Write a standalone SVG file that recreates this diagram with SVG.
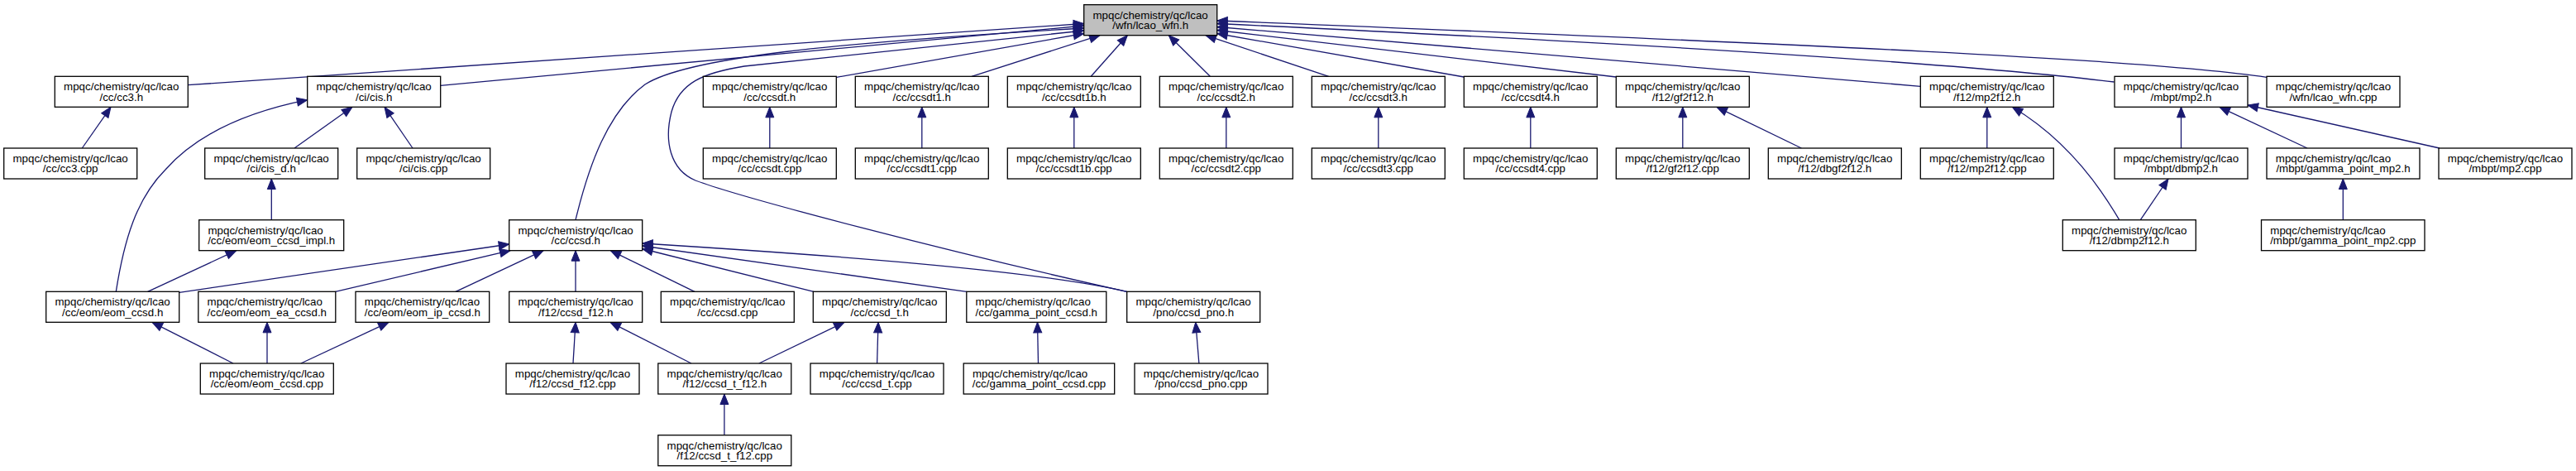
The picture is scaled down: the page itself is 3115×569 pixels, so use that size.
<svg xmlns="http://www.w3.org/2000/svg" width="3115" height="569" viewBox="0 0 3115 569">
<style>
.n rect{fill:#ffffff;stroke:#000000;stroke-width:1.3}
.n.root rect{fill:#bfbfbf}
.n text{font-family:"Liberation Sans",Arial,Helvetica,sans-serif;font-size:13.33px;fill:#000000}
.n text.l2{text-anchor:middle}
#edges path{fill:none;stroke:#191970;stroke-width:1.3;marker-end:url(#ah)}
</style>
<defs>
<marker id="ah" markerUnits="userSpaceOnUse" markerWidth="14" markerHeight="12" refX="12.5" refY="5" orient="auto" viewBox="0 0 14 10" overflow="visible">
<path d="M0,0 L12.5,5 L0,10 z" fill="#191970" stroke="#191970" stroke-width="1"/>
</marker>
</defs>
<rect width="3115" height="569" fill="#ffffff"/>
<g id="edges">
<path d="M227.3,102.7 L1310.7,28.5"/>
<path d="M532.7,103.3 L1310.7,31"/>
<path d="M696,265.7 C712,200 735,135 780,102 C830,70 1000,52 1310.7,34"/>
<path d="M1362.5,352.3 C1150,305 900,240 841,218 C810,205 803,170 812,135 C822,100 850,88 900,80 L1310.7,37"/>
<path d="M1011.7,93.3 L1310.7,40.5"/>
<path d="M1175,92.3 L1330,42.7"/>
<path d="M1319.3,92.3 L1363.3,42.7"/>
<path d="M1463.3,92.3 L1413.3,42.7"/>
<path d="M1606.7,92.3 L1458,42.7"/>
<path d="M1770.3,93 L1471.7,40.5"/>
<path d="M1954.3,93 L1471.7,36.5"/>
<path d="M2322.3,104.3 C2150,88 1900,66 1471.7,32.5"/>
<path d="M2556.5,99 C2400,80 2100,58 1471.7,28.5"/>
<path d="M2741,93.3 C2600,72 2200,54 1471.7,25"/>
<path d="M99.3,179 L134,129.3"/>
<path d="M356,179 L426,129.3"/>
<path d="M499,179 L465,129.3"/>
<path d="M140.3,352.3 C150,290 165,240 200,205 C240,160 300,135 371.7,120.7"/>
<path d="M328.3,265.7 L328.3,216"/>
<path d="M178.6,352.3 L285.7,302.7"/>
<path d="M216.8,353.3 L615.7,295"/>
<path d="M405.6,352.3 L617,302.7"/>
<path d="M551,352.3 L657,302.7"/>
<path d="M696,352.3 L696,302.7"/>
<path d="M840,352.3 L738.3,302.7"/>
<path d="M984,352.3 L776.7,300.5"/>
<path d="M1168.8,352.3 L776.7,297"/>
<path d="M1362.7,352.3 C1250,326 1000,308 776.7,294"/>
<path d="M282,439 L184,389.3"/>
<path d="M323,439 L323,389.3"/>
<path d="M363.8,439 L470,389.3"/>
<path d="M693,439 L696,389.3"/>
<path d="M836,439 L738,389.3"/>
<path d="M917.8,439 L1021,389.3"/>
<path d="M1060.6,439 L1062,389.3"/>
<path d="M1255.5,439 L1254.5,389.3"/>
<path d="M1449.9,439 L1445.8,389.3"/>
<path d="M875.9,525.7 L875.9,476"/>
<path d="M930.8,179 L930.8,129.3"/>
<path d="M1114.8,179 L1114.8,129.3"/>
<path d="M1298.8,179 L1298.8,129.3"/>
<path d="M1482.8,179 L1482.8,129.3"/>
<path d="M1666.8,179 L1666.8,129.3"/>
<path d="M1850.8,179 L1850.8,129.3"/>
<path d="M2034.8,179 L2034.8,129.3"/>
<path d="M2178.4,179 L2076,129.3"/>
<path d="M2402.8,179 L2402.8,129.3"/>
<path d="M2562.7,265.7 Q2510,175 2433.3,129.3"/>
<path d="M2637.5,179 L2637.5,129.3"/>
<path d="M2790,179 L2684,129.3"/>
<path d="M2950,179 L2718,127"/>
<path d="M2588.3,265.7 L2622,216"/>
<path d="M2833.3,265.7 L2833.3,216"/>
</g>
<g id="lcao_wfn_h" class="n root"><rect x="1310.7" y="5.7" width="161" height="37"/><text x="1321.5" y="22.7">mpqc/chemistry/qc/lcao</text><text class="l2" x="1391.2" y="35">/wfn/lcao_wfn.h</text></g>
<g id="cc3_h" class="n"><rect x="66.3" y="92.3" width="161" height="37"/><text x="77.1" y="109.3">mpqc/chemistry/qc/lcao</text><text class="l2" x="146.8" y="121.6">/cc/cc3.h</text></g>
<g id="cis_h" class="n"><rect x="371.7" y="92.3" width="161" height="37"/><text x="382.5" y="109.3">mpqc/chemistry/qc/lcao</text><text class="l2" x="452.2" y="121.6">/ci/cis.h</text></g>
<g id="ccsdt_h" class="n"><rect x="850.3" y="92.3" width="161" height="37"/><text x="861.1" y="109.3">mpqc/chemistry/qc/lcao</text><text class="l2" x="930.8" y="121.6">/cc/ccsdt.h</text></g>
<g id="ccsdt1_h" class="n"><rect x="1034.3" y="92.3" width="161" height="37"/><text x="1045.1" y="109.3">mpqc/chemistry/qc/lcao</text><text class="l2" x="1114.8" y="121.6">/cc/ccsdt1.h</text></g>
<g id="ccsdt1b_h" class="n"><rect x="1218.3" y="92.3" width="161" height="37"/><text x="1229.1" y="109.3">mpqc/chemistry/qc/lcao</text><text class="l2" x="1298.8" y="121.6">/cc/ccsdt1b.h</text></g>
<g id="ccsdt2_h" class="n"><rect x="1402.3" y="92.3" width="161" height="37"/><text x="1413.1" y="109.3">mpqc/chemistry/qc/lcao</text><text class="l2" x="1482.8" y="121.6">/cc/ccsdt2.h</text></g>
<g id="ccsdt3_h" class="n"><rect x="1586.3" y="92.3" width="161" height="37"/><text x="1597.1" y="109.3">mpqc/chemistry/qc/lcao</text><text class="l2" x="1666.8" y="121.6">/cc/ccsdt3.h</text></g>
<g id="ccsdt4_h" class="n"><rect x="1770.3" y="92.3" width="161" height="37"/><text x="1781.1" y="109.3">mpqc/chemistry/qc/lcao</text><text class="l2" x="1850.8" y="121.6">/cc/ccsdt4.h</text></g>
<g id="gf2f12_h" class="n"><rect x="1954.3" y="92.3" width="161" height="37"/><text x="1965.1" y="109.3">mpqc/chemistry/qc/lcao</text><text class="l2" x="2034.8" y="121.6">/f12/gf2f12.h</text></g>
<g id="mp2f12_h" class="n"><rect x="2322.3" y="92.3" width="161" height="37"/><text x="2333.1" y="109.3">mpqc/chemistry/qc/lcao</text><text class="l2" x="2402.8" y="121.6">/f12/mp2f12.h</text></g>
<g id="mp2_h" class="n"><rect x="2557" y="92.3" width="161" height="37"/><text x="2567.8" y="109.3">mpqc/chemistry/qc/lcao</text><text class="l2" x="2637.5" y="121.6">/mbpt/mp2.h</text></g>
<g id="lcao_wfn_cpp" class="n"><rect x="2741" y="92.3" width="161" height="37"/><text x="2751.8" y="109.3">mpqc/chemistry/qc/lcao</text><text class="l2" x="2821.5" y="121.6">/wfn/lcao_wfn.cpp</text></g>
<g id="cc3_cpp" class="n"><rect x="4.7" y="179" width="161" height="37"/><text x="15.5" y="196">mpqc/chemistry/qc/lcao</text><text class="l2" x="85.2" y="208.3">/cc/cc3.cpp</text></g>
<g id="cis_d_h" class="n"><rect x="247.7" y="179" width="161" height="37"/><text x="258.5" y="196">mpqc/chemistry/qc/lcao</text><text class="l2" x="328.2" y="208.3">/ci/cis_d.h</text></g>
<g id="cis_cpp" class="n"><rect x="431.7" y="179" width="161" height="37"/><text x="442.5" y="196">mpqc/chemistry/qc/lcao</text><text class="l2" x="512.2" y="208.3">/ci/cis.cpp</text></g>
<g id="ccsdt_cpp" class="n"><rect x="850.3" y="179" width="161" height="37"/><text x="861.1" y="196">mpqc/chemistry/qc/lcao</text><text class="l2" x="930.8" y="208.3">/cc/ccsdt.cpp</text></g>
<g id="ccsdt1_cpp" class="n"><rect x="1034.3" y="179" width="161" height="37"/><text x="1045.1" y="196">mpqc/chemistry/qc/lcao</text><text class="l2" x="1114.8" y="208.3">/cc/ccsdt1.cpp</text></g>
<g id="ccsdt1b_cpp" class="n"><rect x="1218.3" y="179" width="161" height="37"/><text x="1229.1" y="196">mpqc/chemistry/qc/lcao</text><text class="l2" x="1298.8" y="208.3">/cc/ccsdt1b.cpp</text></g>
<g id="ccsdt2_cpp" class="n"><rect x="1402.3" y="179" width="161" height="37"/><text x="1413.1" y="196">mpqc/chemistry/qc/lcao</text><text class="l2" x="1482.8" y="208.3">/cc/ccsdt2.cpp</text></g>
<g id="ccsdt3_cpp" class="n"><rect x="1586.3" y="179" width="161" height="37"/><text x="1597.1" y="196">mpqc/chemistry/qc/lcao</text><text class="l2" x="1666.8" y="208.3">/cc/ccsdt3.cpp</text></g>
<g id="ccsdt4_cpp" class="n"><rect x="1770.3" y="179" width="161" height="37"/><text x="1781.1" y="196">mpqc/chemistry/qc/lcao</text><text class="l2" x="1850.8" y="208.3">/cc/ccsdt4.cpp</text></g>
<g id="gf2f12_cpp" class="n"><rect x="1954.3" y="179" width="161" height="37"/><text x="1965.1" y="196">mpqc/chemistry/qc/lcao</text><text class="l2" x="2034.8" y="208.3">/f12/gf2f12.cpp</text></g>
<g id="dbgf2f12_h" class="n"><rect x="2138.3" y="179" width="161" height="37"/><text x="2149.1" y="196">mpqc/chemistry/qc/lcao</text><text class="l2" x="2218.8" y="208.3">/f12/dbgf2f12.h</text></g>
<g id="mp2f12_cpp" class="n"><rect x="2322.3" y="179" width="161" height="37"/><text x="2333.1" y="196">mpqc/chemistry/qc/lcao</text><text class="l2" x="2402.8" y="208.3">/f12/mp2f12.cpp</text></g>
<g id="dbmp2_h" class="n"><rect x="2557" y="179" width="161" height="37"/><text x="2567.8" y="196">mpqc/chemistry/qc/lcao</text><text class="l2" x="2637.5" y="208.3">/mbpt/dbmp2.h</text></g>
<g id="gamma_point_mp2_h" class="n"><rect x="2741" y="179" width="185" height="37"/><text x="2751.8" y="196">mpqc/chemistry/qc/lcao</text><text class="l2" x="2833.5" y="208.3">/mbpt/gamma_point_mp2.h</text></g>
<g id="mp2_cpp" class="n"><rect x="2949" y="179" width="161" height="37"/><text x="2959.8" y="196">mpqc/chemistry/qc/lcao</text><text class="l2" x="3029.5" y="208.3">/mbpt/mp2.cpp</text></g>
<g id="eom_ccsd_impl_h" class="n"><rect x="240.7" y="265.7" width="175" height="37"/><text x="251.5" y="282.7">mpqc/chemistry/qc/lcao</text><text class="l2" x="328.2" y="295">/cc/eom/eom_ccsd_impl.h</text></g>
<g id="ccsd_h" class="n"><rect x="615.7" y="265.7" width="161" height="37"/><text x="626.5" y="282.7">mpqc/chemistry/qc/lcao</text><text class="l2" x="696.2" y="295">/cc/ccsd.h</text></g>
<g id="dbmp2f12_h" class="n"><rect x="2494.3" y="265.7" width="161" height="37"/><text x="2505.1" y="282.7">mpqc/chemistry/qc/lcao</text><text class="l2" x="2574.8" y="295">/f12/dbmp2f12.h</text></g>
<g id="gamma_point_mp2_cpp" class="n"><rect x="2734.5" y="265.7" width="197.5" height="37"/><text x="2745.3" y="282.7">mpqc/chemistry/qc/lcao</text><text class="l2" x="2833.3" y="295">/mbpt/gamma_point_mp2.cpp</text></g>
<g id="eom_ccsd_h" class="n"><rect x="55.7" y="352.3" width="161" height="37"/><text x="66.5" y="369.3">mpqc/chemistry/qc/lcao</text><text class="l2" x="136.2" y="381.6">/cc/eom/eom_ccsd.h</text></g>
<g id="eom_ea_ccsd_h" class="n"><rect x="239.8" y="352.3" width="166" height="37"/><text x="250.6" y="369.3">mpqc/chemistry/qc/lcao</text><text class="l2" x="322.8" y="381.6">/cc/eom/eom_ea_ccsd.h</text></g>
<g id="eom_ip_ccsd_h" class="n"><rect x="430" y="352.3" width="161.7" height="37"/><text x="440.8" y="369.3">mpqc/chemistry/qc/lcao</text><text class="l2" x="510.8" y="381.6">/cc/eom/eom_ip_ccsd.h</text></g>
<g id="ccsd_f12_h" class="n"><rect x="615.7" y="352.3" width="161" height="37"/><text x="626.5" y="369.3">mpqc/chemistry/qc/lcao</text><text class="l2" x="696.2" y="381.6">/f12/ccsd_f12.h</text></g>
<g id="ccsd_cpp" class="n"><rect x="799.3" y="352.3" width="161" height="37"/><text x="810.1" y="369.3">mpqc/chemistry/qc/lcao</text><text class="l2" x="879.8" y="381.6">/cc/ccsd.cpp</text></g>
<g id="ccsd_t_h" class="n"><rect x="983.3" y="352.3" width="161" height="37"/><text x="994.1" y="369.3">mpqc/chemistry/qc/lcao</text><text class="l2" x="1063.8" y="381.6">/cc/ccsd_t.h</text></g>
<g id="gamma_point_ccsd_h" class="n"><rect x="1168.8" y="352.3" width="169" height="37"/><text x="1179.6" y="369.3">mpqc/chemistry/qc/lcao</text><text class="l2" x="1253.3" y="381.6">/cc/gamma_point_ccsd.h</text></g>
<g id="ccsd_pno_h" class="n"><rect x="1362.7" y="352.3" width="161" height="37"/><text x="1373.5" y="369.3">mpqc/chemistry/qc/lcao</text><text class="l2" x="1443.2" y="381.6">/pno/ccsd_pno.h</text></g>
<g id="eom_ccsd_cpp" class="n"><rect x="242.3" y="439" width="161" height="37"/><text x="253.1" y="456">mpqc/chemistry/qc/lcao</text><text class="l2" x="322.8" y="468.3">/cc/eom/eom_ccsd.cpp</text></g>
<g id="ccsd_f12_cpp" class="n"><rect x="612" y="439" width="161" height="37"/><text x="622.8" y="456">mpqc/chemistry/qc/lcao</text><text class="l2" x="692.5" y="468.3">/f12/ccsd_f12.cpp</text></g>
<g id="ccsd_t_f12_h" class="n"><rect x="795.8" y="439" width="161" height="37"/><text x="806.6" y="456">mpqc/chemistry/qc/lcao</text><text class="l2" x="876.3" y="468.3">/f12/ccsd_t_f12.h</text></g>
<g id="ccsd_t_cpp" class="n"><rect x="980" y="439" width="161" height="37"/><text x="990.8" y="456">mpqc/chemistry/qc/lcao</text><text class="l2" x="1060.5" y="468.3">/cc/ccsd_t.cpp</text></g>
<g id="gamma_point_ccsd_cpp" class="n"><rect x="1165.2" y="439" width="182.5" height="37"/><text x="1176" y="456">mpqc/chemistry/qc/lcao</text><text class="l2" x="1256.5" y="468.3">/cc/gamma_point_ccsd.cpp</text></g>
<g id="ccsd_pno_cpp" class="n"><rect x="1372" y="439" width="161" height="37"/><text x="1382.8" y="456">mpqc/chemistry/qc/lcao</text><text class="l2" x="1452.5" y="468.3">/pno/ccsd_pno.cpp</text></g>
<g id="ccsd_t_f12_cpp" class="n"><rect x="795.8" y="525.7" width="161" height="37"/><text x="806.6" y="542.7">mpqc/chemistry/qc/lcao</text><text class="l2" x="876.3" y="555">/f12/ccsd_t_f12.cpp</text></g>
</svg>
